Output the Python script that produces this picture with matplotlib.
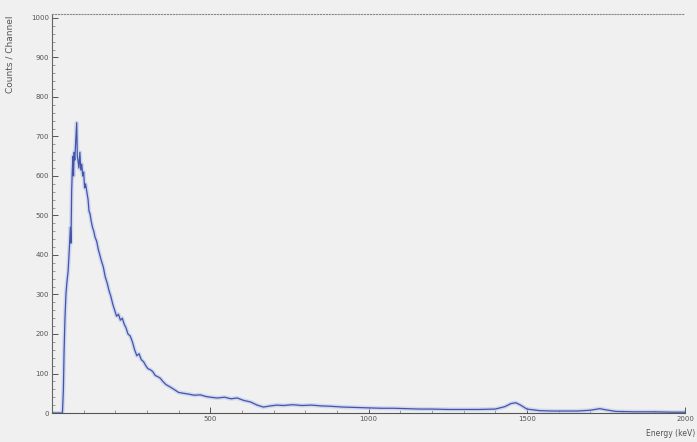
import numpy as np
from matplotlib import pyplot as plt
from matplotlib.ticker import MultipleLocator

# spectrum (energy in keV, counts per channel)
energy = [0, 20, 33, 36, 38, 41, 44, 47, 51, 55, 58, 60, 62, 64, 66, 68, 70, 72,
          75, 78, 80, 82, 85, 88, 91, 94, 97, 100, 103, 106, 110, 114, 117, 120,
          124, 128, 132, 136, 141, 146, 151, 156, 162, 168, 174, 180, 186, 192,
          198, 204, 210, 216, 222, 228, 234, 240, 247, 254, 261, 268, 275, 282,
          289, 296, 303, 310, 318, 326, 334, 342, 350, 360, 373, 385, 400, 415,
          430, 450, 468, 485, 500, 522, 545, 565, 585, 605, 627, 648, 668, 690,
          710, 731, 760, 790, 820, 850, 880, 920, 960, 1000, 1040, 1080, 1120,
          1160, 1200, 1250, 1300, 1350, 1400, 1430, 1450, 1465, 1480, 1500, 1540,
          1580, 1620, 1660, 1700, 1730, 1750, 1780, 1840, 1900, 1960, 2000]
counts = [0, 0, 0, 60, 150, 240, 300, 330, 360, 420, 470, 430, 560, 610, 650, 600,
          660, 640, 690, 735, 650, 640, 620, 660, 615, 630, 600, 610, 570, 580,
          560, 540, 510, 505, 485, 470, 460, 445, 435, 415, 400, 385, 370, 345,
          330, 310, 295, 275, 260, 245, 250, 235, 240, 225, 215, 200, 195, 180,
          160, 145, 150, 135, 130, 120, 112, 110, 105, 95, 92, 88, 80, 72, 66, 60,
          52, 50, 48, 45, 46, 42, 40, 38, 40, 36, 38, 32, 28, 20, 15, 18, 20, 19,
          21, 19, 20, 18, 17, 15, 14, 13, 12, 12, 11, 10, 10, 9, 9, 9, 10, 16, 24,
          26, 20, 10, 6, 5, 5, 5, 7, 11, 8, 4, 3, 3, 2, 2]

bg = "#f0f0f0"
fig = plt.figure(figsize=(6.97, 4.42), dpi=100, facecolor=bg)
ax = fig.add_axes([0.0746, 0.0656, 0.9085, 0.9027])
ax.set_facecolor(bg)

# soft halo + main trace
ax.plot(energy, counts, "-", color="#c3cdef", lw=3.0, alpha=0.7)
ax.plot(energy, counts, "-", color="#4455a8", lw=0.9)

ax.set_xlim(0, 2000)
ax.set_ylim(0, 1010)
ax.xaxis.set_major_locator(MultipleLocator(500))
ax.xaxis.set_minor_locator(MultipleLocator(100))
ax.yaxis.set_major_locator(MultipleLocator(100))
ax.yaxis.set_minor_locator(MultipleLocator(20))
ax.set_xticks([500, 1000, 1500, 2000])
ax.tick_params(which="major", direction="in", length=4, width=0.7,
               labelsize=5, colors="#555555", pad=2)
ax.tick_params(which="minor", direction="in", length=2, width=0.5,
               colors="#777777")

ax.spines["right"].set_visible(False)
ax.spines["top"].set_linestyle(":")
ax.spines["top"].set_color("#888888")
ax.spines["left"].set_color("#666666")
ax.spines["bottom"].set_color("#555555")

fig.text(0.014, 0.965, "Counts / Channel", rotation=90, ha="center", va="top",
         fontsize=6.5, color="#555555")
fig.text(0.998, 0.008, "Energy (keV)", ha="right", va="bottom",
         fontsize=5.5, color="#555555")

plt.savefig("out.png", facecolor=bg)
